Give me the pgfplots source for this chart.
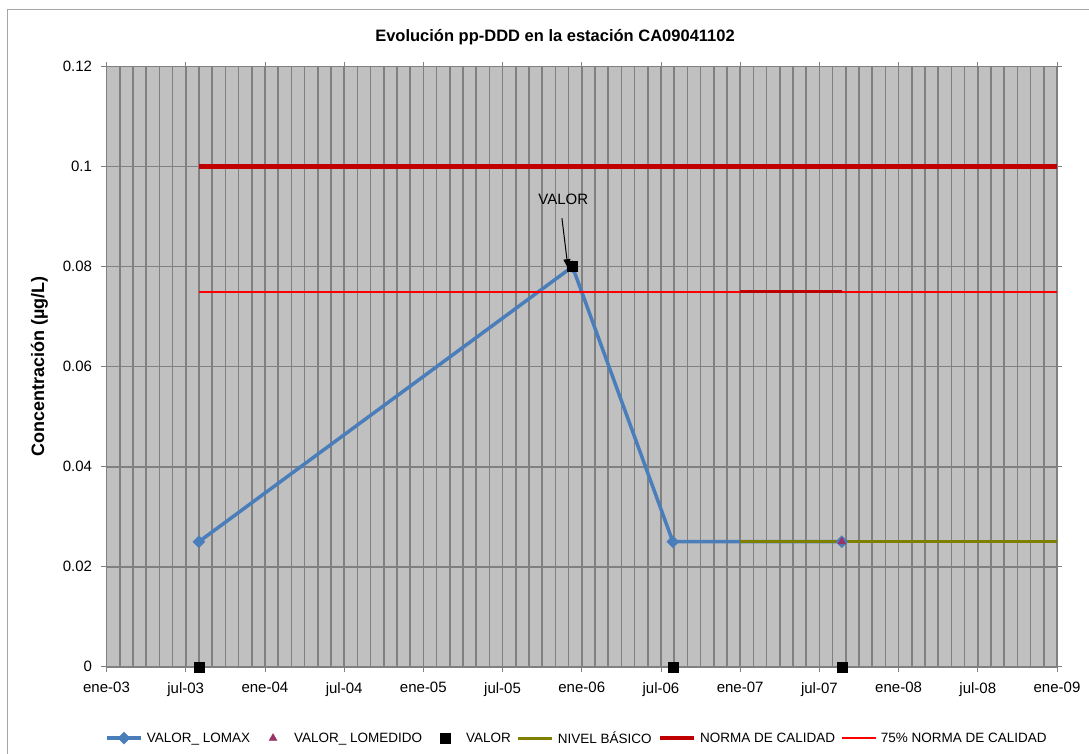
\documentclass[border=0pt]{standalone}
\usepackage{pgfplots}
\pgfplotsset{compat=1.18}
\usepackage{fontspec}
\setmainfont{Liberation Sans}
\usetikzlibrary{arrows.meta}

\definecolor{plotbg}{RGB}{192,192,192}
\definecolor{gridc}{RGB}{128,128,128}
\definecolor{lomax}{RGB}{74,126,187}
\definecolor{lomed}{RGB}{153,51,102}
\definecolor{basico}{RGB}{128,128,0}
\definecolor{norma}{RGB}{192,0,0}
\definecolor{rojoclaro}{RGB}{255,0,0}

\pgfplotsset{
  markonly legend/.style={legend image code/.code={%
    \path[draw=none,fill=none] (0pt,0pt) -- (34pt,0pt);
    \draw[##1] plot[only marks] coordinates {(17pt,0pt)};}},
}

% x = months since ene-03
\begin{document}
\begin{tikzpicture}[x=1pt,y=1pt]
\useasboundingbox (0,0) rectangle (1089,753);
\draw[gray!70, line width=1pt] (7,-20) -- (7,743) -- (1100,743);
\node[font=\fontsize{16.5}{18}\selectfont\bfseries] at (555,716) {Evolución pp-DDD en la estación CA09041102};

\begin{axis}[
  at={(106.5pt,86.3pt)}, anchor=south west,
  width=950.5pt, height=600pt, scale only axis,
  xmin=0, xmax=72, ymin=0, ymax=0.12,
  axis background/.style={fill=plotbg},
  axis line style={gridc, line width=1pt},
  xtick={0,6,...,72},
  xticklabels={ene-03,jul-03,ene-04,jul-04,ene-05,jul-05,ene-06,jul-06,ene-07,jul-07,ene-08,jul-08,ene-09},
  minor x tick num=5,
  ytick={0,0.02,...,0.12},
  yticklabels={0,0.02,0.04,0.06,0.08,0.1,0.12},
  xmajorgrids, xminorgrids, ymajorgrids,
  grid style={gridc, line width=1.6pt},
  minor grid style={gridc, line width=1.6pt},
  tick align=outside, major tick length=5pt, minor tick length=0pt,
  tick style={gridc, line width=0.8pt},
  x tick label style={font=\fontsize{15}{17}\selectfont, yshift=-7pt},
  y tick label style={font=\fontsize{15}{17}\selectfont, xshift=-6pt},
  ylabel={\bfseries Concentración (µg/L)},
  ylabel style={font=\fontsize{18}{20}\selectfont, at={(axis description cs:-0.058,0.5)}, anchor=south},
  clip=false,
  legend columns=6,
  legend style={at={(axis description cs:0.495,-0.119)}, anchor=center, draw=none, fill=none,
    font=\fontsize{13.5}{16}\selectfont, column sep=2pt,
    /tikz/every even column/.append style={column sep=4pt}},
  legend image code/.code={\draw[mark repeat=2,mark phase=2,#1] plot coordinates {(0pt,0pt) (17pt,0pt) (34pt,0pt)};}
]
\addplot[color=lomax, line width=3.5pt, mark=diamond*, mark size=6pt, mark options={fill=lomax, draw=lomax, line width=0.5pt, xscale=1.33}]
  coordinates {(7.0,0.025) (35.3,0.08) (42.9,0.025) (55.7,0.025)};
\addlegendentry{VALOR\_ LOMAX}
\addplot[only marks, mark=triangle*, mark size=4.5pt, color=lomed, markonly legend]
  coordinates {(55.7,0.025)};
\addlegendentry{VALOR\_ LOMEDIDO}
\addplot[only marks, mark=square*, mark size=5pt, color=black, markonly legend]
  coordinates {(7.0,0) (35.3,0.08) (42.9,0) (55.7,0)};
\addlegendentry{VALOR}
\addplot[color=basico, line width=3pt]
  coordinates {(48,0.025) (72,0.025)};
\addlegendentry{NIVEL BÁSICO}
\addplot[color=norma, line width=4.5pt]
  coordinates {(7.0,0.1) (72,0.1)};
\addlegendentry{NORMA DE CALIDAD}
\addplot[color=rojoclaro, line width=1.8pt]
  coordinates {(7.0,0.075) (72,0.075)};
\addlegendentry{75\% NORMA DE CALIDAD}
\addplot[color=norma, line width=2.5pt, forget plot]
  coordinates {(48,0.075) (55.7,0.075)};
\node[font=\fontsize{15}{17}\selectfont] at (axis cs:34.6,0.0935) {VALOR};
\draw[-{Triangle[length=9pt,width=7pt]}, line width=1pt] (axis cs:34.5,0.0897) -- (axis cs:34.96,0.0797);
\end{axis}
\end{tikzpicture}
\end{document}
